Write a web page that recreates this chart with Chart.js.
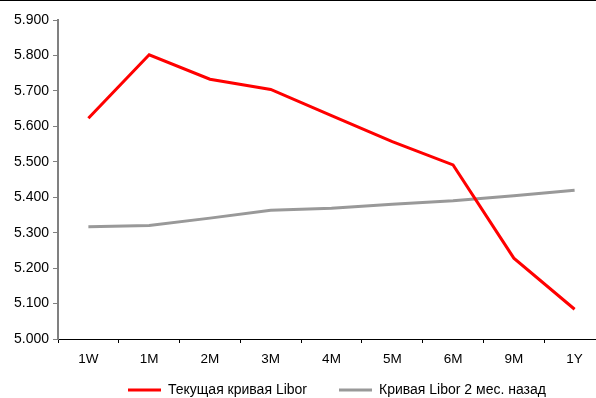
<!DOCTYPE html>
<html>
<head>
<meta charset="utf-8">
<script src="https://cdn.jsdelivr.net/npm/chart.js@4/dist/chart.umd.min.js"></script>
<style>
  html, body { margin: 0; padding: 0; background: #fff; }
  #wrap { position: relative; width: 596px; height: 398px; overflow: hidden; }
  #frame { position: absolute; left: 0; top: 0; width: 596px; height: 1px; background: #000; }
  #box { position: absolute; left: 0; top: 0; width: 605px; height: 398px; }
</style>
</head>
<body>
<div id="wrap">
  <div id="box"><canvas id="c" width="605" height="398"></canvas></div>
  <div id="frame"></div>
</div>
<script>
// Libor term structure: current curve vs. the curve two months earlier
const tenors = ['1W', '1M', '2M', '3M', '4M', '5M', '6M', '9M', '1Y'];
const currentCurve = [5.623, 5.802, 5.733, 5.704, 5.630, 5.557, 5.491, 5.228, 5.084];
const curveTwoMonthsAgo = [5.317, 5.320, 5.341, 5.363, 5.369, 5.380, 5.390, 5.404, 5.420];
const seriesNames = ['Текущая кривая Libor', 'Кривая Libor 2 мес. назад'];
const yMin = 5.0, yMax = 5.9, yStep = 0.1;

const FONT = 'Liberation Sans, Arial, sans-serif';
const LEGEND_GAP = 32;

// Place the legend row below the axis labels, starting under the 2nd category
const legendPlacement = {
  id: 'legendPlacement',
  afterLayout(chart) {
    const lg = chart.legend;
    const dx = 128 - LEGEND_GAP - lg.left;
    lg.left += dx; lg.right += dx;
    lg.top = 351; lg.bottom = 398;
  }
};

new Chart(document.getElementById('c'), {
  type: 'line',
  data: {
    labels: tenors,
    datasets: [
      { label: seriesNames[0], data: currentCurve, borderColor: '#ff0000', backgroundColor: '#ff0000',
        borderWidth: 3, pointRadius: 0, tension: 0 },
      { label: seriesNames[1], data: curveTwoMonthsAgo, borderColor: '#999999', backgroundColor: '#999999',
        borderWidth: 3, pointRadius: 0, tension: 0 }
    ]
  },
  plugins: [legendPlacement],
  options: {
    responsive: false,
    animation: false,
    devicePixelRatio: 1,
    layout: { padding: { top: 20, right: 0, bottom: 0, left: 0 } },
    plugins: {
      tooltip: { enabled: false },
      legend: {
        position: 'bottom',
        align: 'start',
        maxHeight: 30,
        labels: {
          font: { family: FONT, size: 14 },
          color: '#000',
          boxWidth: 33,
          boxHeight: 3,
          padding: LEGEND_GAP,
          generateLabels(chart) {
            return chart.data.datasets.map((ds, i) => ({
              text: ds.label, fillStyle: ds.borderColor, strokeStyle: ds.borderColor,
              lineWidth: 0, hidden: false, datasetIndex: i, fontColor: '#000'
            }));
          }
        }
      }
    },
    scales: {
      x: {
        offset: true,
        grid: { offset: true, drawOnChartArea: false, drawTicks: true, tickLength: 4, color: '#000' },
        border: { display: true, color: '#000', width: 1 },
        ticks: { font: { family: FONT, size: 13.5 }, color: '#000', padding: 8, maxRotation: 0 },
        afterFit(scale) { scale.height = 29; }
      },
      y: {
        min: yMin, max: yMax,
        grid: { drawOnChartArea: false, drawTicks: true, tickLength: 5, color: '#808080' },
        border: { display: true, color: '#808080', width: 2 },
        ticks: { stepSize: yStep, font: { family: FONT, size: 14 }, color: '#000', padding: 4,
          callback: v => Number(v).toFixed(3) },
        afterFit(scale) { scale.width = 58; }
      }
    }
  }
});
</script>
</body>
</html>
